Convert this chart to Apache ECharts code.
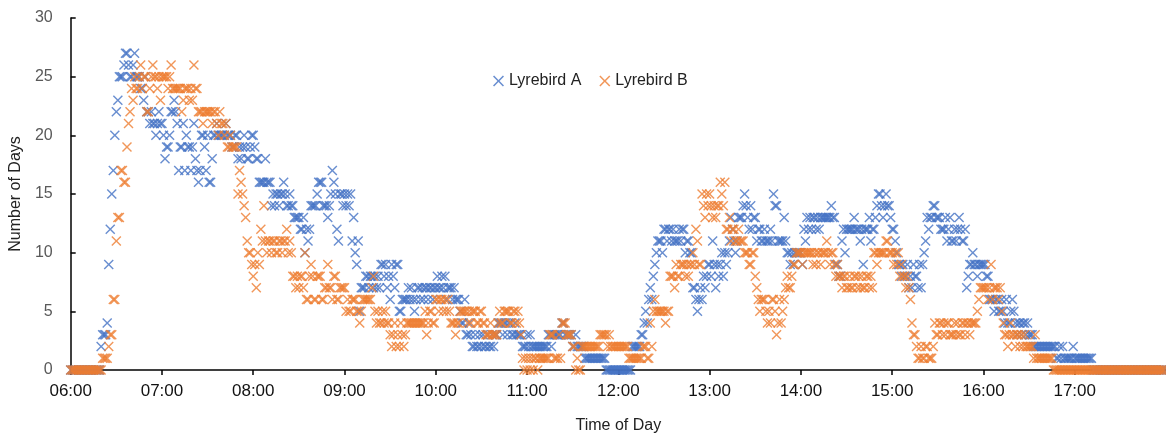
<!DOCTYPE html>
<html>
<head>
<meta charset="utf-8">
<title>Lyrebird activity</title>
<script src="https://cdn.jsdelivr.net/npm/echarts@6/dist/echarts.min.js"></script>
<style>
  html, body { margin: 0; padding: 0; background: #fff; }
  #chart { width: 1166px; height: 439px; }
</style>
</head>
<body>
<div id="chart"></div>
<script>
// one value per minute, grouped by hour (06:00 ... 17:59)
var a06 = [0,0,0,0,0,0,0,0,0,0, 0,0,0,0,0,0,0,0,0,0, 2,3,3,3,4,9,12,15,17,20, 22,23,25,25,25,26,27,27,26,25, 25,26,27,25,25,25,24,24,23,25, 22,22,21,22,21,21,20,21,22,21];
var a07 = [21,20,18,19,19,20,22,22,23,22, 21,17,19,19,21,17,20,19,19,17, 19,21,18,17,16,17,20,20,19,17, 20,16,16,18,20,20,21,20,20,20, 20,20,21,20,20,20,19,19,20,20, 18,19,18,19,20,19,18,18,19,20];
var a08 = [20,19,18,18,16,16,16,16,18,16, 16,16,14,15,14,15,15,14,15,15, 16,15,14,14,15,14,14,13,13,13, 13,12,12,13,10,12,11,12,14,14, 14,14,15,16,16,16,14,14,14,13, 14,15,17,16,15,12,11,15,15,14];
var a09 = [15,14,15,14,15,11,13,10,9,11, 5,7,7,7,8,8,7,8,8,7, 8,7,8,7,9,9,8,9,7,8, 6,9,8,7,9,9,5,5,6,6, 6,6,7,6,7,6,5,6,7,7, 6,7,6,7,7,6,7,7,6,7];
var a10 = [7,8,7,7,8,7,8,6,7,7, 7,6,7,6,6,6,5,4,4,6, 3,3,4,3,2,2,3,2,2,3, 2,3,2,2,3,2,2,3,2,3, 3,4,4,4,3,4,4,3,4,4, 3,3,4,3,3,3,3,2,2,2];
var a11 = [3,2,3,2,2,2,2,2,2,2, 2,2,2,2,3,3,2,3,3,3, 3,3,3,4,4,3,3,3,3,3, 2,2,3,2,2,2,2,2,1,1, 1,1,1,1,1,1,1,1,1,1, 1,1,0,0,0,0,0,0,0,0];
var a12 = [0,0,0,0,0,0,0,0,0,2, 2,2,2,2,2,3,3,4,5,4, 6,7,6,8,9,10,11,11,11,10, 12,12,11,12,12,11,12,11,11,11, 12,11,12,12,10,11,11,10,10,7, 7,6,5,6,7,6,8,7,8,9];
var a13 = [9,8,11,9,7,9,8,9,10,8, 10,9,10,11,13,12,11,10,11,13, 13,13,14,15,14,13,12,14,12,13, 13,11,12,12,11,11,12,11,11,11, 12,11,15,14,14,11,11,11,11,13, 11,10,10,9,10,9,10,10,10,10];
var a14 = [10,9,12,11,13,12,13,12,13,13, 12,13,12,13,13,13,13,13,13,13, 14,13,13,9,9,8,8,11,12,10, 12,12,12,12,12,13,12,12,12,11, 12,9,12,12,12,13,11,12,12,13, 14,15,15,14,13,14,15,14,14,13];
var a15 = [12,12,11,10,9,9,8,9,8,8, 9,7,8,7,9,8,8,7,9,7, 9,10,11,13,12,13,13,14,14,13, 13,13,12,12,12,13,11,12,13,11, 11,12,11,12,13,12,11,11,12,7, 8,9,9,10,9,9,8,9,9,9];
var a16 = [9,9,8,8,6,6,6,5,6,6, 5,5,6,5,4,6,4,4,5,6, 5,4,3,4,4,3,4,4,3,4, 3,3,3,2,2,2,2,2,2,2, 2,2,2,2,2,2,2,2,1,1, 2,1,2,1,1,1,1,1,1,2];
var a17 = [1,1,1,1,1,1,1,1,1,1, 1,1,0,0,0,0,0,0,0,0, 0,0,0,0,0,0,0,0,0,0, 0,0,0,0,0,0,0,0,0,0, 0,0,0,0,0,0,0,0,0,0, 0,0,0,0,0,0,0,0,0,0];

var b06 = [0,0,0,0,0,0,0,0,0,0, 0,0,0,0,0,0,0,0,0,0, 0,1,1,1,1,2,3,3,6,6, 11,13,13,17,17,16,16,19,21,22, 24,23,25,24,24,25,26,24,25,25, 22,22,24,25,26,25,25,24,25,23];
var b07 = [25,25,25,25,24,25,26,24,24,24, 24,24,24,22,23,24,24,24,23,24, 23,26,24,24,22,22,22,21,22,22, 22,22,22,21,22,22,21,20,22,21, 21,20,21,19,19,20,19,19,19,19, 15,17,16,15,14,13,11,10,10,9];
var b08 = [8,9,7,10,9,12,11,14,11,10, 11,11,10,11,11,10,10,11,11,10, 11,11,12,10,11,10,8,8,7,8, 7,8,8,7,10,6,6,8,9,8, 6,6,8,8,8,6,6,7,7,9, 7,7,6,8,8,6,6,7,7,7];
var b09 = [7,5,6,5,5,6,6,6,5,5, 4,5,6,6,6,6,6,6,7,8, 5,4,5,4,4,5,4,5,4,4, 3,2,3,4,2,3,2,4,3,2, 3,4,4,4,4,4,4,4,4,4, 4,4,4,5,3,4,5,5,4,4];
var b10 = [6,6,5,6,6,5,6,5,6,5, 4,4,4,3,4,4,5,5,5,5, 5,4,5,4,5,5,5,4,4,5, 5,4,4,3,3,3,4,3,3,3, 3,4,5,4,4,5,5,5,5,4, 4,5,5,4,5,4,3,1,0,1];
var b11 = [0,1,0,1,0,1,1,0,1,1, 1,1,1,1,1,3,3,3,1,1, 1,3,1,4,4,4,3,3,3,3, 2,2,0,1,0,0,2,2,2,2, 2,2,2,2,2,2,2,2,3,3, 3,3,3,2,3,2,2,2,2,2];
var b12 = [2,2,2,2,2,2,2,1,1,1, 1,1,1,1,1,1,2,2,2,1, 1,4,2,5,6,5,5,5,5,5, 5,4,5,5,8,8,8,7,9,8, 8,9,9,9,8,9,8,9,9,10, 9,12,11,9,9,15,14,13,15,14];
var b13 = [15,14,13,14,13,14,14,16,15,14, 16,12,12,13,11,12,12,11,11,12, 11,11,11,10,10,10,9,9,10,10, 8,7,6,5,6,6,6,5,4,5, 4,6,6,5,3,4,6,4,5,6, 7,8,7,7,8,9,9,10,10,10];
var b14 = [10,9,10,10,10,10,10,10,9,10, 9,10,10,9,10,10,10,11,10,9, 10,10,9,8,9,8,8,7,8,8, 7,7,8,7,7,8,8,7,8,7, 8,7,7,8,8,7,8,7,10,10, 9,10,10,10,10,10,11,11,10,10];
var b15 = [10,9,10,9,10,8,9,8,8,7, 8,7,6,4,3,3,2,1,1,2, 1,1,2,2,1,1,1,2,4,3, 3,4,4,3,4,3,4,4,3,3, 3,4,3,4,3,3,4,4,3,4, 4,3,4,4,4,4,5,6,7,7];
var b16 = [7,7,7,6,7,9,6,7,7,7, 6,7,5,4,3,3,2,3,4,3, 3,2,3,3,2,3,2,3,2,2, 2,2,2,1,3,1,1,1,1,1, 1,1,1,1,1,1,0,0,0,0, 0,0,0,0,0,0,0,0,0,0];
var b17 = [0,0,0,0,0,0,0,0,0,0, 0,0,0,0,0,0,0,0,0,0, 0,0,0,0,0,0,0,0,0,0, 0,0,0,0,0,0,0,0,0,0, 0,0,0,0,0,0,0,0,0,0, 0,0,0,0,0,0,0,0,0,0];

var seriesNames = ['Lyrebird A', 'Lyrebird B'];
var xTickLabels = ['06:00','07:00','08:00','09:00','10:00','11:00','12:00','13:00','14:00','15:00','16:00','17:00'];
var startMinute = 360;   // 06:00

var lyrebirdA = [].concat(a06, a07, a08, a09, a10, a11, a12, a13, a14, a15, a16, a17);
var lyrebirdB = [].concat(b06, b07, b08, b09, b10, b11, b12, b13, b14, b15, b16, b17);

function toPoints(vals) {
  var pts = [];
  for (var i = 0; i < vals.length; i++) {
    pts.push([startMinute + i, vals[i]]);
  }
  return pts;
}

// thin "x" marker
var crossIcon = 'path://M0,1L1,0L5,4L9,0L10,1L6,5L10,9L9,10L5,6L1,10L0,9L4,5Z';
var fontName = 'Liberation Sans';

var chart = echarts.init(document.getElementById('chart'));
chart.setOption({
  animation: false,
  backgroundColor: '#fff',
  textStyle: { fontFamily: fontName },
  grid: { left: 68, right: -6, top: 18, bottom: 61, containLabel: false },
  legend: {
    data: seriesNames,
    left: 488,
    top: 68,
    itemWidth: 11,
    itemHeight: 11,
    itemGap: 18,
    textStyle: { fontSize: 16, color: '#222', fontFamily: fontName }
  },
  xAxis: {
    type: 'value',
    min: 360,
    max: 1080,
    interval: 60,
    name: 'Time of Day',
    nameLocation: 'middle',
    nameGap: 48,
    nameTextStyle: { fontSize: 16, color: '#222', fontFamily: fontName },
    axisLine: { show: true, lineStyle: { color: '#000', width: 1.5 } },
    axisTick: { show: true, length: 5, lineStyle: { color: '#000', width: 1.5 } },
    splitLine: { show: false },
    axisLabel: {
      fontSize: 17,
      color: '#111',
      margin: 13,
      showMaxLabel: false,
      formatter: function (v) {
        var idx = Math.round((v - startMinute) / 60);
        return xTickLabels[idx] || '';
      }
    }
  },
  yAxis: {
    type: 'value',
    min: 0,
    max: 30,
    interval: 5,
    name: 'Number of Days',
    nameLocation: 'middle',
    nameGap: 44,
    nameTextStyle: { fontSize: 16, color: '#222', fontFamily: fontName },
    axisLine: { show: true, lineStyle: { color: '#000', width: 1.5 } },
    axisTick: { show: true, inside: true, length: 5, lineStyle: { color: '#000', width: 1.5 } },
    splitLine: { show: false },
    axisLabel: { fontSize: 16, color: '#595959', margin: 18 }
  },
  series: [
    {
      name: seriesNames[0],
      type: 'scatter',
      symbol: crossIcon,
      symbolSize: 10,
      itemStyle: { color: '#4472C4' },
      data: toPoints(lyrebirdA)
    },
    {
      name: seriesNames[1],
      type: 'scatter',
      symbol: crossIcon,
      symbolSize: 10,
      itemStyle: { color: '#ED7D31' },
      data: toPoints(lyrebirdB)
    }
  ]
});
</script>
</body>
</html>
